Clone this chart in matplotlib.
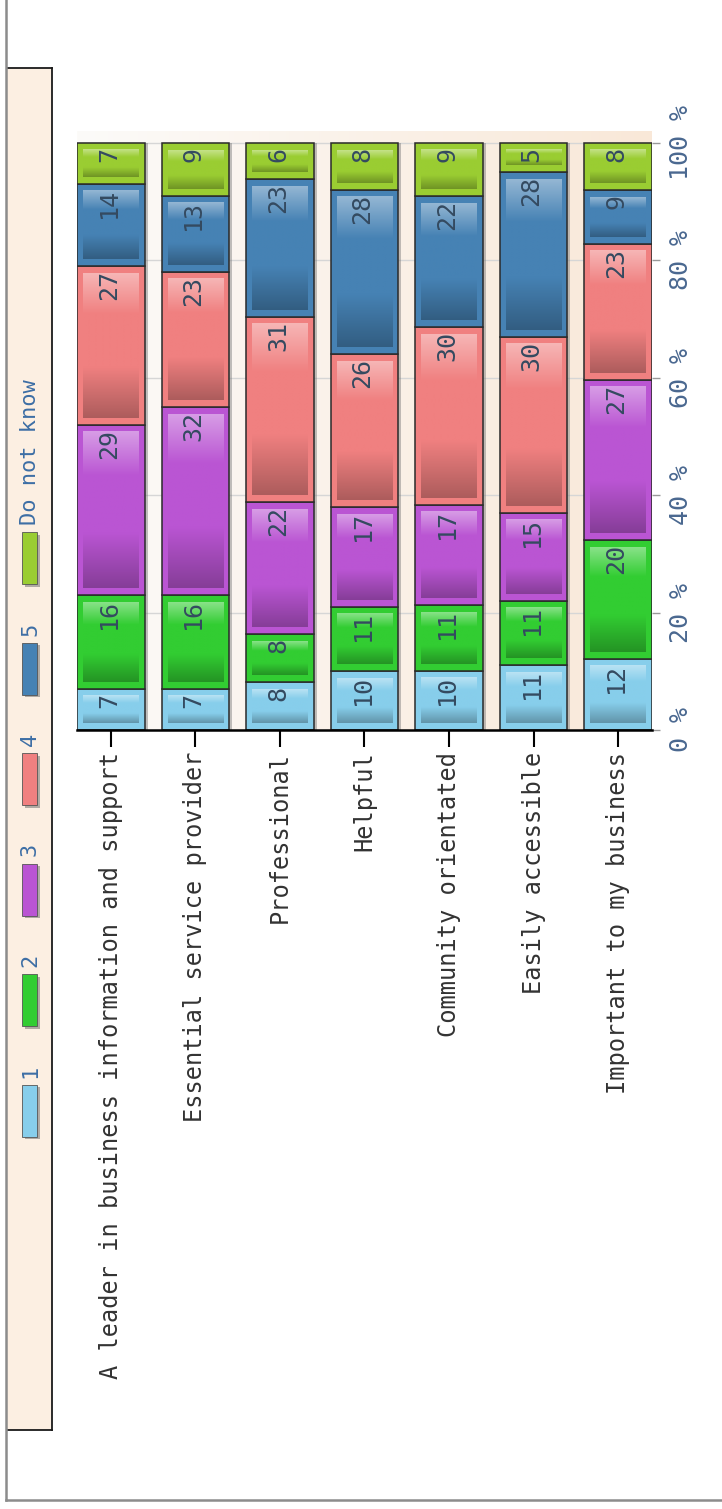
import numpy as np
import matplotlib
matplotlib.use('Agg')
import matplotlib.pyplot as plt
from matplotlib.colors import to_rgb, LinearSegmentedColormap
from matplotlib.patches import Rectangle
from matplotlib.lines import Line2D
import matplotlib.patheffects as pe

# ---------------- data ----------------
categories = ["A leader in business information and support",
              "Essential service provider",
              "Professional",
              "Helpful",
              "Community orientated",
              "Easily accessible",
              "Important to my business"]
series_names = ["1", "2", "3", "4", "5", "Do not know"]
s1 = [7, 7, 8, 10, 10, 11, 12]
s2 = [16, 16, 8, 11, 11, 11, 20]
s3 = [29, 32, 22, 17, 17, 15, 27]
s4 = [27, 23, 31, 26, 30, 30, 23]
s5 = [14, 13, 23, 28, 22, 28, 9]
s_dnk = [7, 9, 6, 8, 9, 5, 8]
colors = ['#87CEEB', '#32CD32', '#BA55D3', '#F08080', '#4682B4', '#9ACD32']
pct_ticks = [0, 20, 40, 60, 80, 100]
pct_labels = [f"{t} %" for t in pct_ticks]

plt.rcParams['font.family'] = ['DejaVu Sans Mono', 'DejaVu Sans']

W, H, DPI = 722, 1509, 100
fig = plt.figure(figsize=(W / DPI, H / DPI), dpi=DPI)


def fx(px):
    return px / W


def fy(py):
    return 1 - py / H


def mix(c, other, t):
    c = np.array(to_rgb(c))
    o = np.array(to_rgb(other))
    return tuple(c * (1 - t) + o * t)


# ---------------- main axes ----------------
ax_l, ax_r, ax_b, ax_t = 77, 652, 730, 131
ax = fig.add_axes([fx(ax_l), fy(ax_b), fx(ax_r) - fx(ax_l), fy(ax_t) - fy(ax_b)])
ax.patch.set_alpha(0)

bw = 0.8
x = np.arange(len(categories))
xlim = (-bw / 2, len(categories) - 1 + bw / 2)
ylim = (0, 102)

# background gradient (white -> light peach)
bg = LinearSegmentedColormap.from_list('bg', ['#fcfbf9', '#f9e8d8'])
ax.imshow(np.linspace(0, 1, 256).reshape(1, -1), cmap=bg, extent=[0, 1, 0, 1],
          transform=ax.transAxes, aspect='auto', zorder=0)

series = [s1, s2, s3, s4, s5, s_dnk]
vals = np.array(series, dtype=float)
totals = vals.sum(axis=0)
shares = vals / totals * 100

xpp = (xlim[1] - xlim[0]) / (ax_r - ax_l)
ypp = (ylim[1] - ylim[0]) / (ax_b - ax_t)
grad = np.linspace(0, 1, 128).reshape(-1, 1)

bottoms = np.zeros(len(categories))
for i, (name, row, share) in enumerate(zip(series_names, vals, shares)):
    col = colors[i]
    bars = ax.bar(x, share, bw, bottom=bottoms, color=col, edgecolor='#2a2a2a',
                  linewidth=1.1, zorder=3, label=name)
    for b in bars:
        b.set_path_effects([pe.SimplePatchShadow(offset=(2.2, 0), shadow_rgbFace='#777777', alpha=0.45),
                            pe.Normal()])
    cm = LinearSegmentedColormap.from_list(
        f'g{i}', [(0.0, mix(col, 'black', 0.28)), (0.35, to_rgb(col)),
                  (0.72, to_rgb(col)), (1.0, mix(col, 'white', 0.42))])
    for j in range(len(categories)):
        y0 = bottoms[j] + 7 * ypp
        y1 = bottoms[j] + share[j] - 7 * ypp
        if y1 - y0 > 3 * ypp:
            ax.imshow(grad, cmap=cm, origin='lower', aspect='auto', interpolation='bilinear',
                      extent=[x[j] - bw / 2 + 6 * xpp, x[j] + bw / 2 - 6 * xpp, y0, y1], zorder=3.5)
        ax.annotate(str(int(row[j])), xy=(x[j], bottoms[j] + share[j]), xytext=(-2, -4),
                    textcoords='offset pixels', ha='center', va='top', rotation=90,
                    fontsize=18, color='#344a60', zorder=5)
    bottoms = bottoms + share

ax.set_xlim(*xlim)
ax.set_ylim(*ylim)

ax.set_xticks(x)
ax.set_xticklabels(categories, rotation=90, ha='center', va='top', fontsize=17, color='#333333')
ax.tick_params(axis='x', length=12, width=1.5, color='black', pad=3.5)

ax.yaxis.tick_right()
ax.set_yticks(pct_ticks)
ax.set_yticklabels(pct_labels, rotation=90, va='center', ha='left', fontsize=18, color='#4a6890')
ax.tick_params(axis='y', length=6, width=1, color='#999999', pad=6)

for s in ['top', 'left', 'right']:
    ax.spines[s].set_visible(False)
ax.spines['bottom'].set_color('black')
ax.spines['bottom'].set_linewidth(1.8)
ax.spines['bottom'].set_zorder(6)

ax.set_axisbelow(True)
ax.grid(axis='y', color='#d6d6d6', linewidth=1)
ax.grid(axis='x', visible=False)

# ---------------- legend strip (rotated) ----------------
lg_l, lg_r, lg_t, lg_b = 7, 52, 68, 1430
lax = fig.add_axes([fx(lg_l), fy(lg_b), fx(lg_r) - fx(lg_l), fy(lg_t) - fy(lg_b)])
lax.set_xlim(lg_l, lg_r)
lax.set_ylim(lg_b, lg_t)
lax.set_facecolor('#fcefe2')
lax.set_xticks([])
lax.set_yticks([])
lax.spines['left'].set_visible(False)
for s in ['top', 'right', 'bottom']:
    lax.spines[s].set_color('#1a1a1a')
    lax.spines[s].set_linewidth(1.3)

first_center, step = 558, 110.5
n = len(series_names)
for i, name in enumerate(series_names):
    c = first_center + (n - 1 - i) * step
    r = Rectangle((22, c - 26), 15, 52, facecolor=colors[i], edgecolor='#555555', lw=0.6, zorder=3)
    r.set_path_effects([pe.SimplePatchShadow(offset=(2, -2), shadow_rgbFace='#666666', alpha=0.5),
                        pe.Normal()])
    lax.add_patch(r)
    lax.text(30, c - 26 - 7, name, rotation=90, ha='center', va='bottom',
             fontsize=15.8, color='#3d6ea5', zorder=4)

# ---------------- figure frame ----------------
fig.add_artist(Line2D([fx(5.5), fx(5.5)], [fy(0), fy(1500)], color='#8c8c8c', lw=1.8,
                      transform=fig.transFigure))
fig.add_artist(Line2D([fx(5.5), 1], [fy(1500), fy(1500)], color='#8c8c8c', lw=1.8,
                      transform=fig.transFigure))

fig.savefig('out.png', dpi=DPI)
